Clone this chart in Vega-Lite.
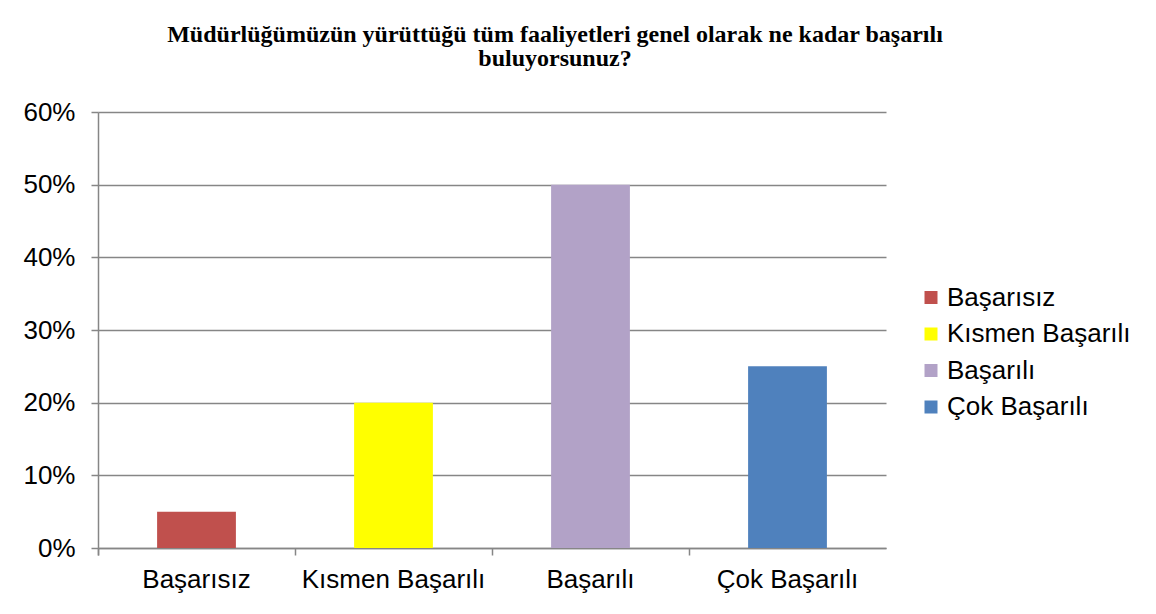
{
  "$schema": "https://vega.github.io/schema/vega-lite/v6.json",
  "width": 788,
  "height": 436,
  "autosize": {"type": "none"},
  "padding": {"left": 98, "top": 112, "right": 270, "bottom": 66},
  "background": "white",
  "title": {
    "text": ["Müdürlüğümüzün yürüttüğü tüm faaliyetleri genel olarak ne kadar başarılı", "buluyorsunuz?"],
    "font": "Liberation Serif",
    "fontSize": 24,
    "fontWeight": "bold",
    "color": "black",
    "anchor": "middle",
    "frame": "group",
    "dx": 63,
    "offset": 28,
    "lineHeight": 24
  },
  "data": {
    "values": [
      {"kategori": "Başarısız", "oran": 0.05},
      {"kategori": "Kısmen Başarılı", "oran": 0.20},
      {"kategori": "Başarılı", "oran": 0.50},
      {"kategori": "Çok Başarılı", "oran": 0.25}
    ]
  },
  "mark": {"type": "bar", "width": {"band": 0.4}},
  "encoding": {
    "x": {
      "field": "kategori",
      "type": "nominal",
      "sort": null,
      "scale": {"paddingInner": 0, "paddingOuter": 0},
      "axis": {
        "title": null,
        "labelAngle": 0,
        "labelFont": "Liberation Sans",
        "labelFontSize": 26,
        "labelColor": "black",
        "labelPadding": 11,
        "labelLimit": 400,
        "domainColor": "#868686",
        "domainWidth": 1.5,
        "tickColor": "#868686",
        "tickWidth": 1.5,
        "tickSize": 7,
        "bandPosition": 0,
        "tickExtra": true,
        "grid": false
      }
    },
    "y": {
      "field": "oran",
      "type": "quantitative",
      "scale": {"domain": [0, 0.6], "nice": false},
      "axis": {
        "title": null,
        "values": [0, 0.1, 0.2, 0.3, 0.4, 0.5, 0.6],
        "format": ".0%",
        "labelFont": "Liberation Sans",
        "labelFontSize": 26,
        "labelColor": "black",
        "labelPadding": 16,
        "domainColor": "#868686",
        "domainWidth": 1.5,
        "tickColor": "#868686",
        "tickWidth": 1.5,
        "tickSize": 7,
        "grid": true,
        "gridColor": "#868686",
        "gridWidth": 1.5
      }
    },
    "color": {
      "field": "kategori",
      "type": "nominal",
      "sort": null,
      "scale": {
        "domain": ["Başarısız", "Kısmen Başarılı", "Başarılı", "Çok Başarılı"],
        "range": ["#C0504D", "#FFFF00", "#B2A2C7", "#4F81BD"]
      },
      "legend": {
        "title": null,
        "orient": "none",
        "legendX": 820,
        "legendY": 172.5,
        "symbolType": "square",
        "symbolSize": 169,
        "symbolStrokeWidth": 0,
        "labelFont": "Liberation Sans",
        "labelFontSize": 26,
        "labelColor": "black",
        "labelOffset": 3,
        "rowPadding": 10.5,
        "labelLimit": 400
      }
    }
  },
  "config": {
    "view": {"stroke": null}
  }
}
